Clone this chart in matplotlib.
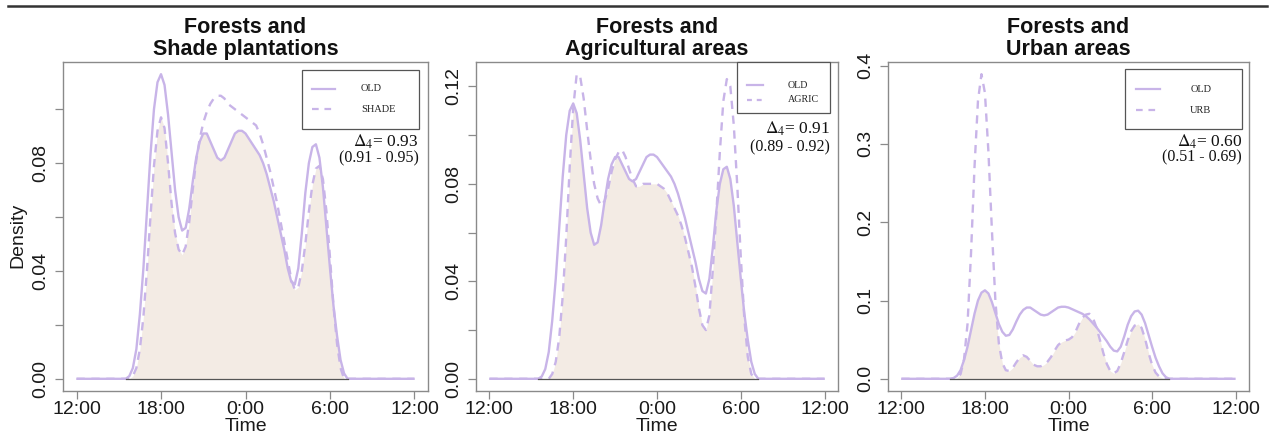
import numpy as np
import matplotlib
matplotlib.use("Agg")
import matplotlib.pyplot as plt
from matplotlib.patches import Rectangle
from matplotlib.lines import Line2D

# ---------------- data (hours after noon, density) ----------------
HOURS = [3.5, 3.75, 4.0, 4.25, 4.5, 4.75, 5.0, 5.25, 5.5, 5.75, 6.0,
         6.25, 6.5, 6.75, 7.0, 7.25, 7.5, 7.75, 8.0, 8.25, 8.5, 8.75, 9.0,
         9.25, 9.5, 9.75, 10.0, 10.25, 10.5, 10.75, 11.0, 11.25, 11.5, 11.75, 12.0,
         12.25, 12.5, 12.75, 13.0, 13.25, 13.5, 13.75, 14.0, 14.25, 14.5, 14.75, 15.0,
         15.25, 15.5, 15.75, 16.0, 16.25, 16.5, 16.75, 17.0, 17.25, 17.5, 17.75, 18.0,
         18.25, 18.5, 18.75, 19.0, 19.25]

OLD = [0.000, 0.001, 0.004, 0.011, 0.024, 0.041, 0.062, 0.083, 0.100, 0.110, 0.113,
       0.109, 0.098, 0.084, 0.070, 0.060, 0.055, 0.056, 0.063, 0.073, 0.082, 0.088, 0.091,
       0.091, 0.088, 0.085, 0.082, 0.081, 0.082, 0.085, 0.088, 0.091, 0.092, 0.092, 0.091,
       0.089, 0.087, 0.085, 0.083, 0.080, 0.076, 0.071, 0.066, 0.060, 0.054, 0.048, 0.041,
       0.036, 0.035, 0.041, 0.054, 0.069, 0.080, 0.086, 0.087, 0.082, 0.071, 0.056, 0.041,
       0.027, 0.016, 0.007, 0.002, 0.000]

SHADE = [0.000, 0.000, 0.001, 0.004, 0.011, 0.023, 0.040, 0.060, 0.079, 0.092, 0.097,
         0.093, 0.080, 0.065, 0.054, 0.048, 0.046, 0.049, 0.058, 0.070, 0.081, 0.089, 0.095,
         0.099, 0.102, 0.104, 0.105, 0.105, 0.104, 0.102, 0.101, 0.100, 0.099, 0.098, 0.097,
         0.096, 0.095, 0.094, 0.091, 0.087, 0.082, 0.077, 0.071, 0.065, 0.058, 0.051, 0.044,
         0.037, 0.033, 0.034, 0.040, 0.050, 0.062, 0.072, 0.078, 0.079, 0.074, 0.062, 0.045,
         0.027, 0.013, 0.004, 0.000, 0.000]

AGRIC = [0.000, 0.000, 0.000, 0.000, 0.002, 0.007, 0.017, 0.034, 0.058, 0.087, 0.111,
         0.125, 0.124, 0.115, 0.102, 0.090, 0.080, 0.074, 0.071, 0.073, 0.078, 0.085, 0.090,
         0.093, 0.094, 0.091, 0.086, 0.082, 0.079, 0.079, 0.080, 0.080, 0.080, 0.080, 0.080,
         0.079, 0.078, 0.076, 0.073, 0.070, 0.067, 0.063, 0.058, 0.052, 0.046, 0.038, 0.029,
         0.022, 0.020, 0.026, 0.045, 0.068, 0.093, 0.114, 0.123, 0.120, 0.104, 0.079, 0.050,
         0.025, 0.009, 0.002, 0.000, 0.000]

URB = [0.000, 0.000, 0.001, 0.006, 0.025, 0.070, 0.160, 0.270, 0.355, 0.389, 0.365,
       0.290, 0.190, 0.100, 0.045, 0.020, 0.011, 0.010, 0.014, 0.021, 0.027, 0.030, 0.028,
       0.023, 0.018, 0.016, 0.016, 0.018, 0.022, 0.028, 0.036, 0.043, 0.047, 0.049, 0.050,
       0.053, 0.060, 0.070, 0.078, 0.082, 0.083, 0.078, 0.066, 0.050, 0.033, 0.019, 0.010,
       0.007, 0.010, 0.020, 0.034, 0.049, 0.061, 0.068, 0.070, 0.065, 0.051, 0.033, 0.018,
       0.008, 0.003, 0.001, 0.000, 0.000]

X_TICKS = [0, 6, 12, 18, 24]
X_TICK_LABELS = ["12:00", "18:00", "0:00", "6:00", "12:00"]

TITLES = [("Forests and", "Shade plantations"),
          ("Forests and", "Agricultural areas"),
          ("Forests and", "Urban areas")]
OTHER_NAMES = ["SHADE", "AGRIC", "URB"]
OTHERS = [SHADE, AGRIC, URB]
DELTAS = ["0.93", "0.91", "0.60"]
CIS = ["(0.91 - 0.95)", "(0.89 - 0.92)", "(0.51 - 0.69)"]
Y_TICKS = [[0.00, 0.02, 0.04, 0.06, 0.08, 0.10],
           [0.00, 0.02, 0.04, 0.06, 0.08, 0.10, 0.12],
           [0.0, 0.1, 0.2, 0.3, 0.4]]
Y_TICK_LABELS = [["0.00", "", "0.04", "", "0.08", ""],
                 ["0.00", "", "0.04", "", "0.08", "", "0.12"],
                 ["0.0", "0.1", "0.2", "0.3", "0.4"]]

# ---------------- style ----------------
LINE_C = "#C8B4E8"
FILL_C = "#F3EBE4"
SPINE_C = "#8a8a8a"
SANS = ["Liberation Sans", "DejaVu Sans"]
SERIF = ["Liberation Serif", "DejaVu Serif"]
plt.rcParams["mathtext.fontset"] = "stix"
plt.rcParams["font.family"] = SANS

W, H = 1272, 443
fig = plt.figure(figsize=(W / 100, H / 100), dpi=100)

BOXES = [(63, 428), (476, 838), (888, 1249)]
TOP, BOT = 62, 391

# legend layouts (axes fraction): box, row y's, handle x, text x, fontsize
LEG = [
    dict(box=(0.655, 0.796, 0.975, 0.976), rows=(0.918, 0.857), hx=(0.682, 0.745), tx=0.816, fs=7.5,
         dy=(0.757, 0.708), dash=(0, (3.0, 2.6))),
    dict(box=(0.720, 0.845, 0.978, 1.0), rows=(0.930, 0.885), hx=(0.748, 0.794), tx=0.862, fs=7.2,
         dy=(0.797, 0.739), dash=(0, (2.2, 2.2))),
    dict(box=(0.656, 0.795, 0.981, 0.978), rows=(0.917, 0.854), hx=(0.686, 0.753), tx=0.837, fs=7.5,
         dy=(0.758, 0.709), dash=(0, (3.0, 2.6))),
]

x_full = np.array([0.0] + HOURS + [24.0])
old_full = np.array([0.0] + OLD + [0.0])

for i in range(3):
    l, r = BOXES[i]
    ax = fig.add_axes([l / W, 1 - BOT / H, (r - l) / W, (BOT - TOP) / H])
    other_full = np.array([0.0] + OTHERS[i] + [0.0])
    overlap = np.minimum(old_full, other_full)
    top = max(old_full.max(), other_full.max())

    ax.fill_between(x_full, 0, overlap, color=FILL_C, lw=0, zorder=1)
    ax.plot(x_full, old_full, color=LINE_C, lw=1.7, zorder=3, solid_capstyle="butt")
    ax.plot(x_full, other_full, color=LINE_C, lw=1.7, ls=(0, (3.5, 2.8)), zorder=3)
    both = np.maximum(old_full, other_full)
    nz = np.nonzero(both > 0)[0]
    ax.plot([x_full[nz[0] - 1], x_full[nz[-1] + 1]], [0, 0], color="#555555", lw=0.9, zorder=4)

    ax.set_xlim(-0.96, 24.96)
    ax.set_ylim(-0.04 * top, 1.04 * top)
    ax.set_xticks(X_TICKS)
    ax.set_xticklabels(X_TICK_LABELS)
    ax.set_yticks(Y_TICKS[i])
    ax.set_yticklabels(Y_TICK_LABELS[i], rotation=90, va="center")
    ax.tick_params(axis="both", length=6, width=0.9, color=SPINE_C, labelsize=14,
                   labelcolor="#1a1a1a")
    ax.tick_params(axis="x", pad=1.5)
    ax.tick_params(axis="y", pad=4)
    for s in ax.spines.values():
        s.set_color(SPINE_C)
        s.set_linewidth(1.0)
    ax.set_xlabel("Time", fontsize=14, color="#1a1a1a", labelpad=0)

    # legend
    lg = LEG[i]
    x0, y0, x1, y1 = lg["box"]
    ax.add_patch(Rectangle((x0, y0), x1 - x0, y1 - y0, transform=ax.transAxes,
                           facecolor="white", edgecolor="#555555", lw=0.9, zorder=6,
                           clip_on=False))
    names = ["OLD", OTHER_NAMES[i]]
    styles = ["-", lg["dash"]]
    for ry, nm, st in zip(lg["rows"], names, styles):
        ax.add_line(Line2D(lg["hx"], [ry, ry], transform=ax.transAxes, color=LINE_C,
                           lw=1.6, ls=st, zorder=7))
        ax.text(lg["tx"], ry, nm, transform=ax.transAxes, family=SERIF, fontsize=lg["fs"],
                va="center", ha="left", color="#222222", zorder=7)
    ax.text(x1, lg["dy"][0], r"$\Delta_4$= " + DELTAS[i], transform=ax.transAxes,
            family=SERIF, fontsize=12.5, ha="right", va="center", color="#111111")
    ax.text(x1, lg["dy"][1], CIS[i], transform=ax.transAxes,
            family=SERIF, fontsize=11.5, ha="right", va="center", color="#111111")

    cx = (l + r) / 2 / W
    fig.text(cx, 1 - 33 / H, TITLES[i][0], ha="center", va="baseline", fontsize=15.5,
             fontweight="bold", color="#111111")
    fig.text(cx, 1 - 55 / H, TITLES[i][1], ha="center", va="baseline", fontsize=15.5,
             fontweight="bold", color="#111111")

fig.text(18 / W, 1 - 235 / H, "Density", rotation=90, ha="center", va="center",
         fontsize=14, color="#1a1a1a")

fig.add_artist(Line2D([8 / W, 1267 / W], [1 - 5.5 / H, 1 - 5.5 / H], color="#333333",
                      lw=1.8, transform=fig.transFigure))

fig.savefig("out.png", dpi=100, facecolor="white")
